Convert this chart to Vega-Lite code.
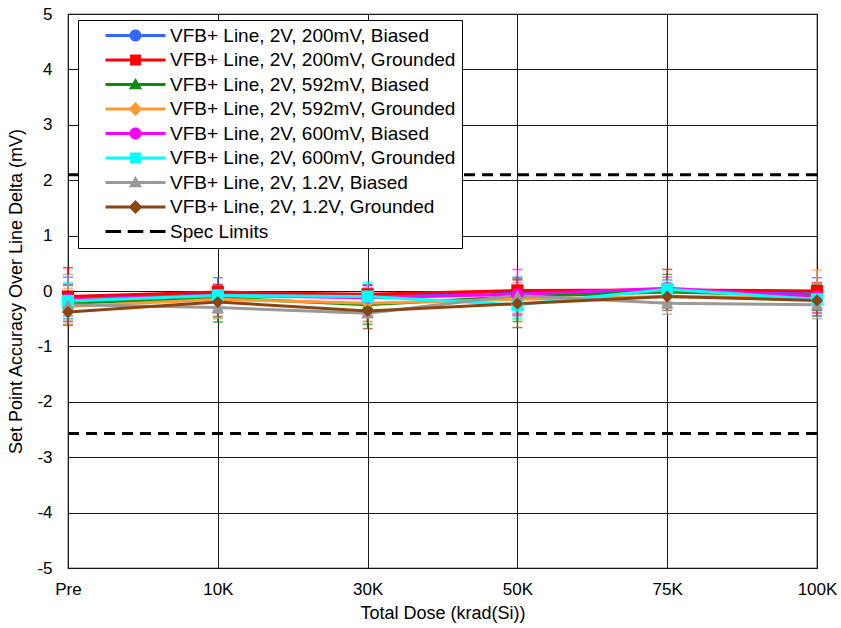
{
  "$schema": "https://vega.github.io/schema/vega-lite/v6.json",
  "width": 749,
  "height": 554,
  "autosize": {"type": "none"},
  "padding": {"left": 68, "top": 14, "right": 24, "bottom": 60},
  "background": "white",
  "config": {
    "font": "Liberation Sans",
    "view": {"stroke": "black", "strokeWidth": 1.2},
    "axis": {"labelFont": "Liberation Sans", "titleFont": "Liberation Sans", "labelColor": "black", "titleColor": "black", "titleFontWeight": "normal", "domain": false, "ticks": false, "gridColor": "#1a1a1a", "gridWidth": 1, "gridOpacity": 1}
  },
  "datasets": {
    "spec": [
      {"series": "Spec Limits", "limit": 2.1},
      {"series": "Spec Limits", "limit": -2.57}
    ]
  },
  "data": {"values": [
    {"series": "VFB+ Line, 2V, 200mV, Biased", "dose": "Pre", "v": -0.12, "lo": -0.45, "hi": 0.25},
    {"series": "VFB+ Line, 2V, 200mV, Grounded", "dose": "Pre", "v": -0.10, "lo": -0.5, "hi": 0.42},
    {"series": "VFB+ Line, 2V, 592mV, Biased", "dose": "Pre", "v": -0.22, "lo": -0.55, "hi": 0.12},
    {"series": "VFB+ Line, 2V, 592mV, Grounded", "dose": "Pre", "v": -0.28, "lo": -0.6, "hi": 0.05},
    {"series": "VFB+ Line, 2V, 600mV, Biased", "dose": "Pre", "v": -0.15, "lo": -0.55, "hi": 0.1},
    {"series": "VFB+ Line, 2V, 600mV, Grounded", "dose": "Pre", "v": -0.18, "lo": -0.5, "hi": 0.15},
    {"series": "VFB+ Line, 2V, 1.2V, Biased", "dose": "Pre", "v": -0.25, "lo": -0.55, "hi": 0.3},
    {"series": "VFB+ Line, 2V, 1.2V, Grounded", "dose": "Pre", "v": -0.38, "lo": -0.62, "hi": -0.1},

    {"series": "VFB+ Line, 2V, 200mV, Biased", "dose": "10K", "v": -0.05, "lo": -0.35, "hi": 0.24},
    {"series": "VFB+ Line, 2V, 200mV, Grounded", "dose": "10K", "v": -0.02, "lo": -0.3, "hi": 0.12},
    {"series": "VFB+ Line, 2V, 592mV, Biased", "dose": "10K", "v": -0.12, "lo": -0.56, "hi": 0.1},
    {"series": "VFB+ Line, 2V, 592mV, Grounded", "dose": "10K", "v": -0.15, "lo": -0.45, "hi": 0.08},
    {"series": "VFB+ Line, 2V, 600mV, Biased", "dose": "10K", "v": -0.08, "lo": -0.4, "hi": 0.1},
    {"series": "VFB+ Line, 2V, 600mV, Grounded", "dose": "10K", "v": -0.08, "lo": -0.4, "hi": 0.06},
    {"series": "VFB+ Line, 2V, 1.2V, Biased", "dose": "10K", "v": -0.3, "lo": -0.5, "hi": -0.1},
    {"series": "VFB+ Line, 2V, 1.2V, Grounded", "dose": "10K", "v": -0.2, "lo": -0.47, "hi": 0.05},

    {"series": "VFB+ Line, 2V, 200mV, Biased", "dose": "30K", "v": -0.08, "lo": -0.4, "hi": 0.12},
    {"series": "VFB+ Line, 2V, 200mV, Grounded", "dose": "30K", "v": -0.06, "lo": -0.45, "hi": 0.1},
    {"series": "VFB+ Line, 2V, 592mV, Biased", "dose": "30K", "v": -0.25, "lo": -0.6, "hi": 0.05},
    {"series": "VFB+ Line, 2V, 592mV, Grounded", "dose": "30K", "v": -0.22, "lo": -0.55, "hi": 0.05},
    {"series": "VFB+ Line, 2V, 600mV, Biased", "dose": "30K", "v": -0.12, "lo": -0.45, "hi": 0.1},
    {"series": "VFB+ Line, 2V, 600mV, Grounded", "dose": "30K", "v": -0.1, "lo": -0.4, "hi": 0.16},
    {"series": "VFB+ Line, 2V, 1.2V, Biased", "dose": "30K", "v": -0.4, "lo": -0.55, "hi": -0.2},
    {"series": "VFB+ Line, 2V, 1.2V, Grounded", "dose": "30K", "v": -0.36, "lo": -0.68, "hi": -0.1},

    {"series": "VFB+ Line, 2V, 200mV, Biased", "dose": "50K", "v": -0.04, "lo": -0.45, "hi": 0.25},
    {"series": "VFB+ Line, 2V, 200mV, Grounded", "dose": "50K", "v": 0.01, "lo": -0.35, "hi": 0.2},
    {"series": "VFB+ Line, 2V, 592mV, Biased", "dose": "50K", "v": -0.1, "lo": -0.55, "hi": 0.22},
    {"series": "VFB+ Line, 2V, 592mV, Grounded", "dose": "50K", "v": -0.15, "lo": -0.5, "hi": 0.1},
    {"series": "VFB+ Line, 2V, 600mV, Biased", "dose": "50K", "v": -0.06, "lo": -0.42, "hi": 0.39},
    {"series": "VFB+ Line, 2V, 600mV, Grounded", "dose": "50K", "v": -0.25, "lo": -0.5, "hi": 0.05},
    {"series": "VFB+ Line, 2V, 1.2V, Biased", "dose": "50K", "v": -0.08, "lo": -0.4, "hi": 0.15},
    {"series": "VFB+ Line, 2V, 1.2V, Grounded", "dose": "50K", "v": -0.23, "lo": -0.66, "hi": 0.05},

    {"series": "VFB+ Line, 2V, 200mV, Biased", "dose": "75K", "v": 0.0, "lo": -0.3, "hi": 0.2},
    {"series": "VFB+ Line, 2V, 200mV, Grounded", "dose": "75K", "v": 0.02, "lo": -0.25, "hi": 0.39},
    {"series": "VFB+ Line, 2V, 592mV, Biased", "dose": "75K", "v": -0.02, "lo": -0.3, "hi": 0.3},
    {"series": "VFB+ Line, 2V, 592mV, Grounded", "dose": "75K", "v": -0.1, "lo": -0.3, "hi": 0.15},
    {"series": "VFB+ Line, 2V, 600mV, Biased", "dose": "75K", "v": 0.05, "lo": -0.2, "hi": 0.25},
    {"series": "VFB+ Line, 2V, 600mV, Grounded", "dose": "75K", "v": 0.03, "lo": -0.25, "hi": 0.2},
    {"series": "VFB+ Line, 2V, 1.2V, Biased", "dose": "75K", "v": -0.22, "lo": -0.42, "hi": 0.05},
    {"series": "VFB+ Line, 2V, 1.2V, Grounded", "dose": "75K", "v": -0.1, "lo": -0.35, "hi": 0.1},

    {"series": "VFB+ Line, 2V, 200mV, Biased", "dose": "100K", "v": -0.05, "lo": -0.35, "hi": 0.24},
    {"series": "VFB+ Line, 2V, 200mV, Grounded", "dose": "100K", "v": 0.0, "lo": -0.3, "hi": 0.15},
    {"series": "VFB+ Line, 2V, 592mV, Biased", "dose": "100K", "v": -0.08, "lo": -0.35, "hi": 0.12},
    {"series": "VFB+ Line, 2V, 592mV, Grounded", "dose": "100K", "v": -0.12, "lo": -0.39, "hi": 0.38},
    {"series": "VFB+ Line, 2V, 600mV, Biased", "dose": "100K", "v": -0.1, "lo": -0.4, "hi": 0.1},
    {"series": "VFB+ Line, 2V, 600mV, Grounded", "dose": "100K", "v": -0.15, "lo": -0.45, "hi": 0.1},
    {"series": "VFB+ Line, 2V, 1.2V, Biased", "dose": "100K", "v": -0.25, "lo": -0.5, "hi": 0.0},
    {"series": "VFB+ Line, 2V, 1.2V, Grounded", "dose": "100K", "v": -0.17, "lo": -0.45, "hi": 0.05}
  ]},
  "layer": [
    {
      "mark": {"type": "errorbar", "ticks": true, "size": 10, "thickness": 1.5},
      "encoding": {
        "x": {"field": "dose", "type": "ordinal", "sort": ["Pre", "10K", "30K", "50K", "75K", "100K"],
          "scale": {"type": "point", "padding": 0},
          "axis": {"title": "Total Dose (krad(Si))", "labelAngle": 0, "labelFontSize": 17, "titleFontSize": 18, "labelPadding": 13, "titlePadding": 7, "grid": true}},
        "y": {"field": "lo", "type": "quantitative", "scale": {"domain": [-5, 5]},
          "axis": {"title": "Set Point Accuracy Over Line Delta (mV)", "values": [-5, -4, -3, -2, -1, 0, 1, 2, 3, 4, 5], "labelExpr": "'' + datum.value", "labelFontSize": 17, "titleFontSize": 18, "labelPadding": 16, "titlePadding": 11, "grid": true}},
        "y2": {"field": "hi"},
        "color": {"field": "series", "type": "nominal"}
      }
    },
    {
      "mark": {"type": "line", "strokeWidth": 3},
      "encoding": {
        "x": {"field": "dose", "type": "ordinal", "sort": ["Pre", "10K", "30K", "50K", "75K", "100K"]},
        "y": {"field": "v", "type": "quantitative"},
        "color": {"field": "series", "type": "nominal",
          "scale": {
            "domain": ["VFB+ Line, 2V, 200mV, Biased", "VFB+ Line, 2V, 200mV, Grounded", "VFB+ Line, 2V, 592mV, Biased", "VFB+ Line, 2V, 592mV, Grounded", "VFB+ Line, 2V, 600mV, Biased", "VFB+ Line, 2V, 600mV, Grounded", "VFB+ Line, 2V, 1.2V, Biased", "VFB+ Line, 2V, 1.2V, Grounded", "Spec Limits"],
            "range": ["#3366FF", "#FF0000", "#0A8F0A", "#FF9933", "#FF00FF", "#00FFFF", "#999999", "#8B4513", "#000000"]
          },
          "legend": {
            "title": null,
            "orient": "none",
            "legendX": 10,
            "legendY": 6,
            "padding": 6,
            "strokeColor": "black",
            "fillColor": "white",
            "labelFont": "Liberation Sans",
            "labelFontSize": 19,
            "labelColor": "black",
            "labelLimit": 0,
            "symbolSize": 144,
            "symbolOffset": 42,
            "labelOffset": 25,
            "rowPadding": 4.5,
            "encode": {
              "symbols": {
                "update": {
                  "shape": {"signal": "datum.index == 8 ? 'M-5,-0.25H-2.4V0.25H-5Z M-1.3,-0.25H1.3V0.25H-1.3Z M2.4,-0.25H5V0.25H2.4Z' : datum.index % 4 == 0 ? 'M-5,-0.23H5V0.23H-5Z M1,0A1,1 0 1,1 -1,0A1,1 0 1,1 1,0Z' : datum.index % 4 == 1 ? 'M-5,-0.23H5V0.23H-5Z M-0.9,-0.9H0.9V0.9H-0.9Z' : datum.index % 4 == 2 ? 'M-5,-0.23H5V0.23H-5Z M0,-1.1L1.1,0.8H-1.1Z' : 'M-5,-0.23H5V0.23H-5Z M0,-1.15L1.15,0L0,1.15L-1.15,0Z'"},
                  "fill": {"scale": "color", "field": "value"},
                  "strokeWidth": {"value": 0},
                  "opacity": {"value": 1}
                }
              }
            }
          }
        }
      }
    },
    {
      "mark": {"type": "point", "filled": true, "opacity": 1, "size": 150},
      "encoding": {
        "x": {"field": "dose", "type": "ordinal", "sort": ["Pre", "10K", "30K", "50K", "75K", "100K"]},
        "y": {"field": "v", "type": "quantitative"},
        "color": {"field": "series", "type": "nominal"},
        "shape": {"field": "series", "type": "nominal", "legend": null,
          "scale": {
            "domain": ["VFB+ Line, 2V, 200mV, Biased", "VFB+ Line, 2V, 200mV, Grounded", "VFB+ Line, 2V, 592mV, Biased", "VFB+ Line, 2V, 592mV, Grounded", "VFB+ Line, 2V, 600mV, Biased", "VFB+ Line, 2V, 600mV, Grounded", "VFB+ Line, 2V, 1.2V, Biased", "VFB+ Line, 2V, 1.2V, Grounded"],
            "range": ["circle", "square", "triangle-up", "diamond", "circle", "square", "triangle-up", "diamond"]
          }}
      }
    },
    {
      "data": {"name": "spec"},
      "mark": {"type": "rule", "strokeWidth": 3, "strokeDash": [11, 7]},
      "encoding": {
        "y": {"field": "limit", "type": "quantitative"},
        "color": {"field": "series", "type": "nominal"}
      }
    }
  ]
}
